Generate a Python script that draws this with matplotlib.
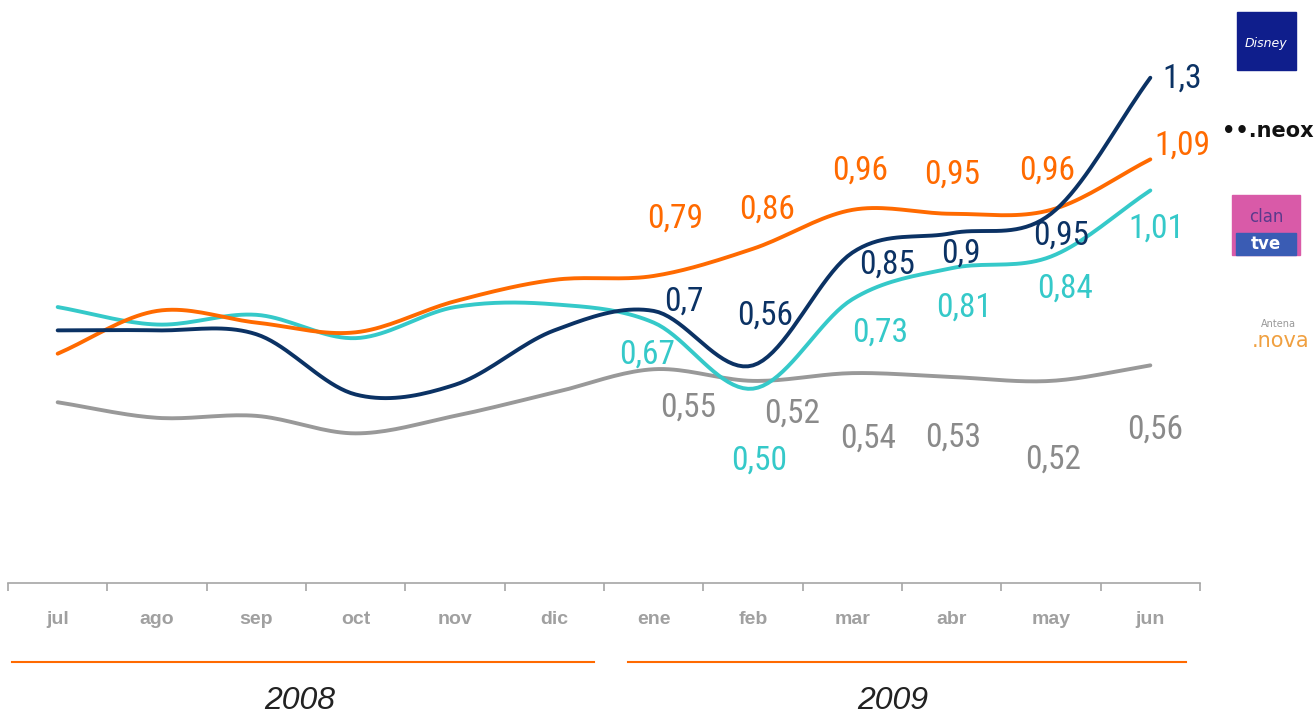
import numpy as np
import matplotlib
matplotlib.use("Agg")
import matplotlib.pyplot as plt
from matplotlib.lines import Line2D
from matplotlib.patches import Rectangle
from matplotlib import font_manager

# Data
months = ["jul", "ago", "sep", "oct", "nov", "dic", "ene", "feb", "mar", "abr", "may", "jun"]
years = ["2008", "2009"]
disney = [0.65, 0.65, 0.64, 0.485, 0.51, 0.65, 0.70, 0.56, 0.85, 0.90, 0.95, 1.30]
neox = [0.59, 0.70, 0.67, 0.645, 0.725, 0.78, 0.79, 0.86, 0.96, 0.95, 0.96, 1.09]
clan = [0.71, 0.665, 0.69, 0.63, 0.71, 0.717, 0.67, 0.50, 0.73, 0.81, 0.84, 1.01]
nova = [0.465, 0.425, 0.43, 0.385, 0.43, 0.49, 0.55, 0.52, 0.54, 0.53, 0.52, 0.56]
disney_lbl = ["0,7", "0,56", "0,85", "0,9", "0,95", "1,3"]
labeled_from = 6  # labels shown from "ene" on

NAVY = "#0b3264"
ORANGE = "#ff6a00"
CYAN = "#35c9c9"
GRAY = "#999999"
GRAY_TXT = "#8a8a8a"

# label offsets in pixels (dx, dy-down) for ene..jun
offsets = {
    "neox": [(21, -57), (14, -39), (8, -39), (0, -39), (-4, -39), (32, -14)],
    "disney": [(30, -9), (12, -50), (35, 12), (9, 20), (10, 22), (32, 1)],
    "clan": [(-7, 32), (6, 72), (28, 33), (12, 39), (14, 32), (6, 38)],
    "nova": [(34, 38), (39, 33), (16, 66), (1, 61), (2, 79), (5, 64)],
}


def smooth(y, n=20):
    # cubic Hermite curve through the points (drawing only)
    y = np.asarray(y, float)
    x = np.arange(len(y), dtype=float)
    m = np.gradient(y)
    xs, ys = [], []
    for i in range(len(y) - 1):
        t = np.linspace(0, 1, n, endpoint=False)
        h00 = 2 * t**3 - 3 * t**2 + 1
        h10 = t**3 - 2 * t**2 + t
        h01 = -2 * t**3 + 3 * t**2
        h11 = t**3 - t**2
        xs.append(x[i] + t)
        ys.append(h00 * y[i] + h10 * m[i] + h01 * y[i + 1] + h11 * m[i + 1])
    xs.append([x[-1]])
    ys.append([y[-1]])
    return np.concatenate(xs), np.concatenate(ys)


names = {f.name for f in font_manager.fontManager.ttflist}
narrow = None
for cand in ["Liberation Sans Narrow", "Roboto Condensed", "Open Sans Condensed", "DejaVu Sans Condensed"]:
    if cand in names:
        narrow = cand
        break
label_kw = dict(family=[narrow, "DejaVu Sans"] if narrow else ["DejaVu Sans"],
                fontstretch="condensed", fontsize=24 if narrow else 19)

fig = plt.figure(figsize=(13.16, 7.17), dpi=100)
ax = fig.add_axes([8 / 1316, 1 - 583 / 717, 1192 / 1316, 583 / 717])

series = [("nova", nova, GRAY, GRAY_TXT), ("clan", clan, CYAN, CYAN),
          ("neox", neox, ORANGE, ORANGE), ("disney", disney, NAVY, NAVY)]
for name, vals, col, tcol in series:
    xs, ys = smooth(vals)
    ax.plot(xs, ys, color=col, lw=2.8, solid_capstyle="round", zorder=3)
    for k, i in enumerate(range(labeled_from, len(vals))):
        dx, dy = offsets[name][k]
        txt = disney_lbl[k] if name == "disney" else f"{vals[i]:.2f}".replace(".", ",")
        ax.annotate(txt, (i, vals[i]), xytext=(dx, -dy), textcoords="offset pixels",
                    ha="center", va="center", color=tcol, zorder=4, **label_kw)

ax.set_xlim(-0.5, len(months) - 0.5)
ax.set_ylim(0, 1.5)
for s in ["top", "right", "left"]:
    ax.spines[s].set_visible(False)
ax.spines["bottom"].set_color("#a6a6a6")
ax.spines["bottom"].set_linewidth(1.2)
ax.set_yticks([])
ax.set_xticks(np.arange(len(months)))
ax.set_xticklabels(months, color="#a0a0a0", fontsize=14, fontweight="bold",
                   family="Liberation Sans")
ax.tick_params(axis="x", which="major", length=0, pad=20)
ax.set_xticks(np.arange(len(months) + 1) - 0.5, minor=True)
ax.tick_params(axis="x", which="minor", length=6, color="#a6a6a6", width=1.2)

# year bands
fig.add_artist(Line2D([12 / 1316, 594 / 1316], [1 - 662 / 717] * 2, color=ORANGE, lw=1.5))
fig.add_artist(Line2D([628 / 1316, 1186 / 1316], [1 - 662 / 717] * 2, color=ORANGE, lw=1.5))
fig.text(300 / 1316, 1 - 701 / 717, years[0], ha="center", va="center",
         fontsize=23, style="italic", color="#222222", family="Liberation Sans")
fig.text(893 / 1316, 1 - 701 / 717, years[1], ha="center", va="center",
         fontsize=23, style="italic", color="#222222", family="Liberation Sans")

# channel marks on the right
fig.add_artist(Rectangle((1237 / 1316, 1 - 70 / 717), 59 / 1316, 58 / 717,
                         transform=fig.transFigure, color="#0f1e8c"))
fig.text(1266 / 1316, 1 - 44 / 717, "Disney", ha="center", va="center",
         fontsize=9, color="white", style="italic")
fig.text(1268 / 1316, 1 - 131 / 717, "••.neox", ha="center", va="center",
         fontsize=15, fontweight="bold", color="#111111")
fig.add_artist(Rectangle((1232 / 1316, 1 - 255 / 717), 68 / 1316, 60 / 717,
                         transform=fig.transFigure, color="#d95aa8"))
fig.add_artist(Rectangle((1236 / 1316, 1 - 255 / 717), 60 / 1316, 22 / 717,
                         transform=fig.transFigure, color="#3a5cb4"))
fig.text(1266 / 1316, 1 - 217 / 717, "clan", ha="center", va="center",
         fontsize=12, color="#5a3a8c")
fig.text(1266 / 1316, 1 - 244 / 717, "tve", ha="center", va="center",
         fontsize=12, fontweight="bold", color="white")
fig.text(1296 / 1316, 1 - 324 / 717, "Antena", ha="right", va="center",
         fontsize=7, color="#999999")
fig.text(1281 / 1316, 1 - 341 / 717, ".nova", ha="center", va="center",
         fontsize=15, color="#f0a040")

fig.savefig("out.png", dpi=100)
